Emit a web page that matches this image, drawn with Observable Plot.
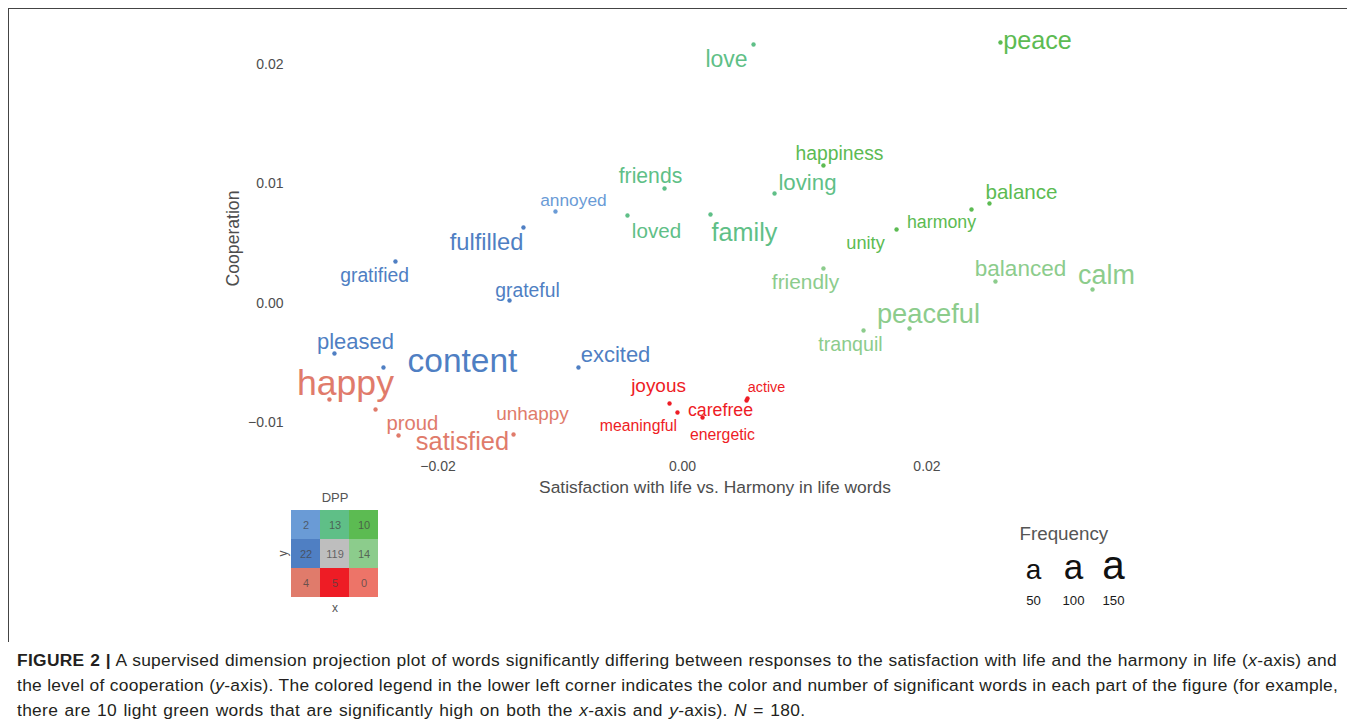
<!DOCTYPE html>
<html>
<head>
<meta charset="utf-8">
<script src="https://cdn.jsdelivr.net/npm/d3@7"></script>
<script src="https://cdn.jsdelivr.net/npm/@observablehq/plot@0.6"></script>
<style>
  body { margin: 0; background: #fff; font-family: "Liberation Sans", Arial, Helvetica, sans-serif; }
  #fig { position: relative; width: 1355px; height: 728px; overflow: hidden; background: #fff; }
  .abs { position: absolute; }
  #frameTop { left: 8px; top: 8px; width: 1339px; height: 0; border-top: 1.5px solid #444; }
  #frameLeft { left: 8px; top: 8px; width: 0; height: 634px; border-left: 1.5px solid #444; }
  #caption { left: 17px; top: 648px; width: 1320px; font-size: 17.4px; line-height: 25px; color: #231f20; letter-spacing: 0.3px; }
  #caption div { white-space: nowrap; }
  #caption .just { text-align: justify; text-align-last: justify; }
  #caption .last { word-spacing: 1.3px; }
</style>
</head>
<body>
<div id="fig">
  <div id="frameTop" class="abs"></div>
  <div id="frameLeft" class="abs"></div>
  <div id="main" class="abs" style="left:0;top:0"></div>
  <div id="dpp" class="abs" style="left:270px;top:485px"></div>
  <div id="freq" class="abs" style="left:990px;top:515px"></div>
  <div id="caption" class="abs">
    <div class="just"><b>FIGURE 2 |</b> A supervised dimension projection plot of words significantly differing between responses to the satisfaction with life and the harmony in life (<i>x</i>-axis) and</div>
    <div class="just">the level of cooperation (<i>y</i>-axis). The colored legend in the lower left corner indicates the color and number of significant words in each part of the figure (for example,</div>
    <div class="last">there are 10 light green words that are significantly high on both the <i>x</i>-axis and <i>y</i>-axis). <i>N</i> = 180.</div>
  </div>
</div>
<script>
// ---------- DATA ----------
const words = ["love","peace","happiness","loving","friends","loved","family","balance","harmony","unity",
  "friendly","balanced","calm","peaceful","tranquil","annoyed","gratified","fulfilled","grateful","pleased",
  "content","excited","happy","proud","satisfied","unhappy","joyous","meaningful","carefree","energetic","active"];
// word positions (dots)
const xValues = [0.00581,0.02601,0.01153,0.00753,-0.00147,-0.00450,0.00229,0.02511,0.02364,0.01751,
  0.01153,0.02560,0.03354,0.01857,0.01481,-0.01039,-0.02348,-0.01301,-0.01415,-0.02847,
  -0.02446,-0.00851,-0.02888,-0.02511,-0.02323,-0.01382,-0.00106,-0.00041,0.00164,0.00524,0.00532];
const yValues = [0.02167,0.02184,0.01155,0.00921,0.00962,0.00736,0.00745,0.00837,0.00787,0.00619,
  0.00293,0.00184,0.00117,-0.00209,-0.00226,0.00770,0.00351,0.00636,0.00025,-0.00418,
  -0.00536,-0.00536,-0.00803,-0.00887,-0.01105,-0.01096,-0.00837,-0.00912,-0.00954,-0.00812,-0.00795];
// repelled label positions
const labelX = [0.00360,0.02904,0.01284,0.01022,-0.00262,-0.00213,0.00507,0.02773,0.02119,0.01497,
  0.01006,0.02765,0.03468,0.02012,0.01374,-0.00892,-0.02519,-0.01603,-0.01268,-0.02675,
  -0.01800,-0.00548,-0.02757,-0.02209,-0.01800,-0.01227,-0.00196,-0.00360,0.00311,0.00327,0.00687];
const labelY = [0.02042,0.02201,0.01255,0.01013,0.01063,0.00603,0.00594,0.00929,0.00678,0.00502,
  0.00176,0.00293,0.00234,-0.00092,-0.00343,0.00862,0.00234,0.00510,0.00109,-0.00318,
  -0.00485,-0.00427,-0.00669,-0.01004,-0.01155,-0.00921,-0.00686,-0.01021,-0.00895,-0.01096,-0.00703];
const frequency = [25,35,12,22,18,16,35,16,8,9,
  17,23,44,46,13,7,12,28,12,21,
  88,21,105,15,36,11,11,4,8,4,2];
const groups = ["mid-high","high-high","high-high","mid-high","mid-high","mid-high","mid-high","high-high","high-high","high-high",
  "high-mid","high-mid","high-mid","high-mid","high-mid","low-high","low-mid","low-mid","low-mid","low-mid",
  "low-mid","low-mid","low-low","low-low","low-low","low-low","mid-low","mid-low","mid-low","mid-low","mid-low"];

// DPP legend grid
const cellCols = ["low","mid","high"];   // x
const cellRows = ["high","mid","low"];   // y
const cellCounts = [2,13,10, 22,119,14, 4,5,0];
const cellColors = ["#6a9bd6","#5fbf87","#5cbb52","#4f7fc3","#bebebe","#8ccc8c","#e07b6b","#ee1c25","#ed7468"];

// axes
const xTicks = [-0.02, 0, 0.02];
const yTicks = [-0.01, 0, 0.01, 0.02];
const xTitle = "Satisfaction with life vs. Harmony in life words";
const yTitle = "Cooperation";
const freqLegend = [50, 100, 150];

// ---------- BUILD ----------
const FONT = '"Liberation Sans", Arial, Helvetica, sans-serif';
const sizeOf = f => 11 + 2.4 * Math.sqrt(f);
const fmt = d3.format(".2f");

const table = words.map((w, i) => ({word: w, x: xValues[i], y: yValues[i], lx: labelX[i], ly: labelY[i], freq: frequency[i], group: groups[i]}));
const groupKeys = [];
cellRows.forEach(r => cellCols.forEach(c => groupKeys.push(`${c}-${r}`)));

const main = Plot.plot({
  width: 1355, height: 500,
  marginLeft: 286, marginRight: 212, marginTop: 20, marginBottom: 44,
  style: {fontFamily: FONT, fontSize: "14px", color: "#4d4d4d", background: "transparent"},
  x: {domain: [-0.032393, 0.03771], ticks: xTicks, tickSize: 0, tickPadding: 5, tickFormat: fmt, label: null},
  y: {domain: [-0.012803, 0.023682], ticks: yTicks, tickSize: 0, tickPadding: 3, tickFormat: fmt, label: null},
  color: {type: "ordinal", domain: groupKeys, range: cellColors},
  marks: [
    Plot.dot(table, {x: "x", y: "y", fill: "group", r: 2.2}),
    Plot.text(table, {x: "lx", y: "ly", text: "word", fill: "group", fontSize: d => sizeOf(d.freq)}),
    Plot.text([xTitle], {frameAnchor: "bottom", dy: 31, lineAnchor: "middle", fontSize: 17.4, fill: "#4d4d4d"}),
    Plot.text([yTitle], {frameAnchor: "left", dx: -53, rotate: -90, textAnchor: "middle", lineAnchor: "middle", fontSize: 17.6, fill: "#4d4d4d"})
  ]
});
document.getElementById("main").appendChild(main);

const cells = [];
cellRows.forEach((r, i) => cellCols.forEach((c, j) => cells.push({col: c, row: r, count: cellCounts[i * 3 + j], color: cellColors[i * 3 + j]})));
const dpp = Plot.plot({
  width: 130, height: 135,
  marginLeft: 20, marginRight: 21, marginTop: 24, marginBottom: 23,
  style: {fontFamily: FONT, background: "transparent"},
  x: {domain: cellCols, axis: null, padding: 0},
  y: {domain: cellRows, axis: null, padding: 0},
  color: {type: "identity"},
  marks: [
    Plot.cell(cells, {x: "col", y: "row", fill: "color"}),
    Plot.text(cells, {x: "col", y: "row", text: d => String(d.count), fill: "#444", fillOpacity: 0.75, fontSize: 11}),
    Plot.text(["DPP"], {frameAnchor: "top", dy: -12, lineAnchor: "middle", fontSize: 13, fill: "#555"}),
    Plot.text(["x"], {frameAnchor: "bottom", dy: 11, lineAnchor: "middle", fontSize: 12, fill: "#555"}),
    Plot.text(["y"], {frameAnchor: "left", dx: -7, rotate: -90, textAnchor: "middle", lineAnchor: "middle", fontSize: 12, fill: "#555"})
  ]
});
document.getElementById("dpp").appendChild(dpp);

const freq = Plot.plot({
  width: 200, height: 100,
  marginLeft: 43, marginRight: 77, marginTop: 0, marginBottom: 0,
  style: {fontFamily: FONT, background: "transparent"},
  x: {domain: [50, 150], axis: null},
  marks: [
    Plot.text(["Frequency"], {frameAnchor: "top-left", dx: -14, dy: 18, textAnchor: "start", lineAnchor: "middle", fontSize: 18.8, fill: "#555"}),
    Plot.text(freqLegend, {x: d => d, frameAnchor: "top", dy: 63, lineAnchor: "bottom", text: () => "a", fontSize: d => sizeOf(d), fill: "#111"}),
    Plot.text(freqLegend, {x: d => d, frameAnchor: "top", dy: 85, lineAnchor: "middle", text: d => String(d), fontSize: 13.2, fill: "#1a1a1a"})
  ]
});
document.getElementById("freq").appendChild(freq);
</script>
</body>
</html>
